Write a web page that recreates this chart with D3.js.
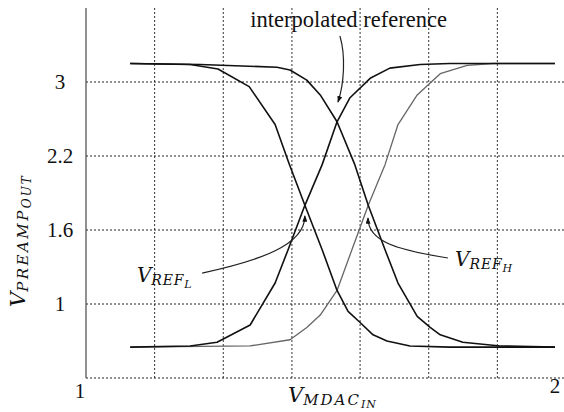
<!DOCTYPE html>
<html>
<head>
<meta charset="utf-8">
<script src="https://cdn.jsdelivr.net/npm/d3@7"></script>
</head>
<body style="margin:0">
<div id="chart"></div>
<script>
// Preamplifier output characteristics versus MDAC input voltage

// Axis ticks and grid positions
const xTickValues = [1, 2];
const xTickLabels = ["1", "2"];
const xGridValues = [1.143, 1.286, 1.429, 1.571, 1.714, 1.857];
const yTickValues = [1, 1.6, 2.2, 3];
const yTickLabels = ["1", "1.6", "2.2", "3"];
const yBreaks = [0.4, 1, 1.6, 2.2, 3, 3.8];   // evenly spaced grid rows

// Pair referenced to V_REF_L
const fallLowX = [1.092, 1.217, 1.275, 1.340, 1.394, 1.423, 1.456, 1.492, 1.523, 1.546, 1.571, 1.598, 1.627, 1.675, 1.758, 1.977];
const fallLowY = [3.20, 3.19, 3.14, 2.95, 2.54, 2.14, 1.80, 1.44, 1.11, 0.94, 0.85, 0.75, 0.70, 0.66, 0.65, 0.65];
const riseLowX = [1.092, 1.217, 1.273, 1.342, 1.394, 1.421, 1.456, 1.492, 1.523, 1.550, 1.592, 1.633, 1.696, 1.758, 1.977];
const riseLowY = [0.65, 0.66, 0.69, 0.83, 1.17, 1.44, 1.80, 2.13, 2.57, 2.83, 3.04, 3.15, 3.19, 3.20, 3.20];

// Pair referenced to V_REF_H
const fallHighX = [1.092, 1.238, 1.398, 1.425, 1.460, 1.488, 1.523, 1.560, 1.588, 1.623, 1.650, 1.690, 1.717, 1.738, 1.785, 1.863, 1.977];
const fallHighY = [3.20, 3.19, 3.16, 3.13, 3.02, 2.86, 2.57, 2.13, 1.80, 1.44, 1.17, 0.90, 0.81, 0.75, 0.69, 0.66, 0.65];
const riseHighX = [1.092, 1.342, 1.425, 1.460, 1.488, 1.523, 1.554, 1.588, 1.623, 1.650, 1.690, 1.717, 1.738, 1.794, 1.848, 1.977];
const riseHighY = [0.65, 0.66, 0.71, 0.81, 0.91, 1.11, 1.44, 1.80, 2.13, 2.54, 2.86, 2.99, 3.09, 3.18, 3.20, 3.20];

// Annotation anchors (data units)
const refLowLabel = [1.106, 1.178];
const refLowArrow = [[1.242, 1.251], [1.456, 1.714]];
const refHighLabel = [1.769, 1.305];
const refHighArrow = [[1.754, 1.373], [1.5875, 1.697]];
const interpLabel = [1.342, 3.595];
const interpArrow = [[1.529, 3.497], [1.525, 2.784]];

const W = 564, H = 412;

const svg = d3.select("#chart").append("svg")
  .attr("width", W).attr("height", H)
  .attr("font-family", "Times New Roman")
  .style("display", "block");

// Text faces: upright serif for numbers and notes, italic serif for symbols
svg.append("style").text(`
  .roman { font-family: "Liberation Serif", "Times New Roman", serif; }
  .math  { font-family: "DejaVu Serif", serif; font-style: italic; }
`);

svg.append("rect").attr("width", W).attr("height", H).attr("fill", "#fff");

const x = d3.scaleLinear().domain([1, 2]).range([86, 566]);
const y = d3.scaleLinear().domain(yBreaks).range([378, 304, 230, 156, 82, 8]);

const yTop = y(yBreaks[yBreaks.length - 1]);
const yBottom = y(yBreaks[0]);

// Grid
const grid = svg.append("g");
grid.selectAll("line.vg").data(xGridValues).join("line")
  .attr("class", "vg")
  .attr("x1", d => x(d)).attr("x2", d => x(d))
  .attr("y1", yTop).attr("y2", yBottom)
  .attr("stroke", "#333").attr("stroke-width", 1)
  .attr("stroke-dasharray", "2,2");
grid.selectAll("line.hg").data(yTickValues.concat([yBreaks[0]])).join("line")
  .attr("class", "hg")
  .attr("x1", x(1)).attr("x2", x(2))
  .attr("y1", d => y(d)).attr("y2", d => y(d))
  .attr("stroke", "#222").attr("stroke-width", 1)
  .attr("stroke-dasharray", "2,2");

// Left axis line
svg.append("line")
  .attr("x1", x(1)).attr("x2", x(1))
  .attr("y1", yTop).attr("y2", yBottom)
  .attr("stroke", "#555").attr("stroke-width", 1.3);

// Y tick labels
svg.append("g").selectAll("text").data(yTickValues).join("text")
  .attr("class", "roman")
  .attr("x", x(1) - 26)
  .attr("y", d => y(d) + 7)
  .attr("text-anchor", "middle")
  .attr("font-size", 21)
  .attr("fill", "#111")
  .text((d, i) => yTickLabels[i]);

// X tick labels
svg.append("text").attr("class", "roman")
  .attr("x", x(xTickValues[0]) - 6).attr("y", 398)
  .attr("text-anchor", "middle").attr("font-size", 21).attr("fill", "#111")
  .text(xTickLabels[0]);
svg.append("text").attr("class", "roman")
  .attr("x", x(xTickValues[1]) - 11).attr("y", 393)
  .attr("text-anchor", "middle").attr("font-size", 21).attr("fill", "#111")
  .text(xTickLabels[1]);

// Curves
const line = d3.line().x(d => x(d[0])).y(d => y(d[1]));
const series = [
  { xs: riseHighX, ys: riseHighY, color: "#666", width: 1.3 },
  { xs: fallLowX, ys: fallLowY, color: "#111", width: 1.6 },
  { xs: riseLowX, ys: riseLowY, color: "#111", width: 1.6 },
  { xs: fallHighX, ys: fallHighY, color: "#111", width: 1.6 }
];
svg.append("g").selectAll("path").data(series).join("path")
  .attr("d", s => line(s.xs.map((v, i) => [v, s.ys[i]])))
  .attr("fill", "none")
  .attr("stroke", s => s.color)
  .attr("stroke-width", s => s.width)
  .attr("stroke-linejoin", "round");

// Arrowhead
svg.append("defs").append("marker")
  .attr("id", "head").attr("viewBox", "0 0 8 6")
  .attr("refX", 7).attr("refY", 3)
  .attr("markerWidth", 7).attr("markerHeight", 5)
  .attr("markerUnits", "userSpaceOnUse")
  .attr("orient", "auto")
  .append("path").attr("d", "M0,0 L8,3 L0,6 Z").attr("fill", "#111");

function arrow(pts, c1, c2) {
  const [s, e] = pts.map(p => [x(p[0]), y(p[1])]);
  const p = d3.path();
  p.moveTo(s[0], s[1]);
  p.bezierCurveTo(s[0] + c1[0], s[1] + c1[1], e[0] + c2[0], e[1] + c2[1], e[0], e[1]);
  svg.append("path").attr("d", p.toString())
    .attr("fill", "none").attr("stroke", "#222").attr("stroke-width", 1.2)
    .attr("marker-end", "url(#head)");
}
arrow(refLowArrow, [55, -12], [0, 30]);
arrow(refHighArrow, [-50, -8], [0, 24]);
arrow(interpArrow, [6, 20], [6, -18]);

// Math-style label: V with nested subscripts
function mathLabel(g, parts) {
  const t = g.append("text")
    .attr("class", "math")
    .attr("font-style", "italic")
    .attr("fill", "#111");
  parts.forEach(p => {
    t.append("tspan")
      .attr("font-size", p.size)
      .attr("dy", p.dy || 0)
      .attr("letter-spacing", p.ls || 0)
      .text(p.t);
  });
  return t;
}

// Annotation labels
const gl = svg.append("g").attr("transform", `translate(${x(refLowLabel[0])},${y(refLowLabel[1])})`);
mathLabel(gl, [{ t: "V", size: 20 }, { t: "REF", size: 14, dy: 3, ls: 0.8 }, { t: "L", size: 11, dy: 3 }]);
const gh = svg.append("g").attr("transform", `translate(${x(refHighLabel[0])},${y(refHighLabel[1])})`);
mathLabel(gh, [{ t: "V", size: 20 }, { t: "REF", size: 14, dy: 3, ls: 0.8 }, { t: "H", size: 11, dy: 3 }]);

svg.append("text").attr("class", "roman")
  .attr("x", x(interpLabel[0])).attr("y", y(interpLabel[1]))
  .attr("font-size", 22.5)
  .attr("fill", "#111")
  .text("interpolated reference");

// Axis titles
const gx = svg.append("g").attr("transform", `translate(288,402)`);
mathLabel(gx, [{ t: "V", size: 21 }, { t: "MDAC", size: 15, dy: 3, ls: 2 }, { t: "IN", size: 11, dy: 3, ls: 1 }]);
const gy = svg.append("g").attr("transform", `translate(25,307) rotate(-90)`);
mathLabel(gy, [{ t: "V", size: 21 }, { t: "PREAMP", size: 15, dy: 3, ls: 2.5 }, { t: "OUT", size: 12, dy: 3, ls: 2 }]);
</script>
</body>
</html>
